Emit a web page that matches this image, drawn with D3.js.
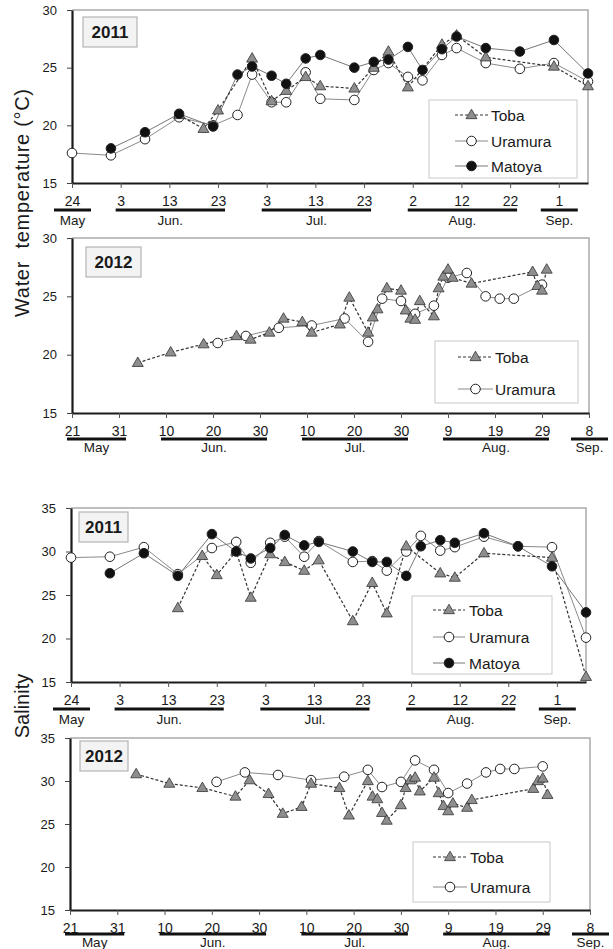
<!DOCTYPE html>
<html><head><meta charset="utf-8">
<script src="https://cdn.jsdelivr.net/npm/d3@7"></script>
<style>
body{margin:0;background:#fff}
svg{display:block}
text{font-family:"Liberation Sans",Arial,sans-serif;fill:#1a1a1a}
</style>
</head><body>
<svg id="c" width="613" height="949"></svg>
<script>
// ---------- tick labels ----------
const ticks2011 = ["05-24","06-03","06-13","06-23","07-03","07-13","07-23","08-02","08-12","08-22","09-01"];
const tickLabels2011 = ["24","3","13","23","3","13","23","2","12","22","1"];
const ticks2012 = ["05-21","05-31","06-10","06-20","06-30","07-10","07-20","07-30","08-09","08-19","08-29","09-08"];
const tickLabels2012 = ["21","31","10","20","30","10","20","30","9","19","29","8"];
const monthNames = ["May","Jun.","Jul.","Aug.","Sep."];
const tempTicks = [15,20,25,30];
const salTicks = [15,20,25,30,35];
const seriesNames3 = ["Toba","Uramura","Matoya"];
const seriesNames2 = ["Toba","Uramura"];

// ---------- 2011 water temperature ----------
const t11TobaDates = ["06-15","06-20","06-23","06-30","07-04","07-07","07-11","07-14","07-21","07-25","07-28","08-01","08-08","08-11","08-17","08-31","09-07"];
const t11Toba = [20.9,19.7,21.3,25.8,22.1,23.0,24.2,23.4,23.2,25.0,26.4,23.3,27.0,27.8,25.9,25.1,23.4];
const t11UraDates = ["05-24","06-01","06-08","06-15","06-22","06-27","06-30","07-04","07-07","07-11","07-14","07-21","07-25","07-28","08-01","08-04","08-08","08-11","08-17","08-24","08-31","09-07"];
const t11Ura = [17.6,17.4,18.8,20.7,20.0,20.9,24.4,22.0,22.0,24.6,22.3,22.2,24.8,25.4,24.2,23.9,26.1,26.7,25.4,24.9,25.4,23.8];
const t11MatDates = ["06-01","06-08","06-15","06-22","06-27","06-30","07-04","07-07","07-11","07-14","07-21","07-25","07-28","08-01","08-04","08-08","08-11","08-17","08-24","08-31","09-07"];
const t11Mat = [18.0,19.4,21.0,19.9,24.4,25.1,24.3,23.6,25.8,26.1,25.0,25.5,25.7,26.8,24.8,26.6,27.7,26.7,26.4,27.4,24.5];

// ---------- 2012 water temperature ----------
const t12TobaDates = ["06-04","06-11","06-18","06-25","06-28","07-02","07-05","07-09","07-11","07-17","07-19","07-23","07-24","07-25","07-27","07-30","07-31","08-01","08-02","08-03","08-06","08-07","08-08","08-09","08-10","08-14","08-27","08-28","08-29","08-30"];
const t12Toba = [19.3,20.2,20.9,21.6,21.3,21.9,23.1,22.8,21.9,22.6,24.9,21.9,23.2,23.9,25.7,25.5,23.8,23.1,23.0,24.6,23.3,25.7,26.7,27.3,26.6,26.1,27.1,25.9,25.5,27.3];
const t12UraDates = ["06-21","06-27","07-04","07-11","07-18","07-23","07-26","07-30","08-02","08-06","08-09","08-13","08-17","08-20","08-23","08-29"];
const t12Ura = [21.0,21.6,22.3,22.5,23.1,21.1,24.8,24.6,23.5,24.2,26.6,27.0,25.0,24.8,24.8,26.0];

// ---------- 2011 salinity ----------
const s11TobaDates = ["06-15","06-20","06-23","06-27","06-30","07-04","07-07","07-11","07-14","07-21","07-25","07-28","08-01","08-08","08-11","08-17","08-31","09-07"];
const s11Toba = [23.5,29.5,27.3,30.0,24.7,29.7,28.8,27.8,29.0,22.0,26.4,22.9,30.6,27.5,27.0,29.8,29.3,15.6];
const s11UraDates = ["05-24","06-01","06-08","06-15","06-22","06-27","06-30","07-04","07-07","07-11","07-14","07-21","07-25","07-28","08-01","08-04","08-08","08-11","08-17","08-24","08-31","09-07"];
const s11Ura = [29.3,29.4,30.5,27.4,30.4,31.1,28.7,31.0,31.7,29.4,31.2,28.8,28.9,27.8,30.0,31.8,30.1,30.5,31.7,30.6,30.5,20.1];
const s11MatDates = ["06-01","06-08","06-15","06-22","06-27","06-30","07-04","07-07","07-11","07-14","07-21","07-25","07-28","08-01","08-04","08-08","08-11","08-17","08-24","08-31","09-07"];
const s11Mat = [27.5,29.8,27.2,32.0,30.0,29.2,30.4,31.9,30.7,31.1,30.0,28.8,28.8,27.2,30.6,31.3,31.0,32.1,30.6,28.3,23.0];

// ---------- 2012 salinity ----------
const s12TobaDates = ["06-04","06-11","06-18","06-25","06-28","07-02","07-05","07-09","07-11","07-17","07-19","07-23","07-24","07-25","07-26","07-27","07-30","07-31","08-01","08-02","08-03","08-06","08-07","08-08","08-09","08-10","08-13","08-14","08-27","08-28","08-29","08-30"];
const s12Toba = [30.8,29.7,29.2,28.2,30.1,28.5,26.2,27.0,29.7,29.2,26.0,30.0,28.2,27.9,26.3,25.4,27.2,29.2,30.1,30.4,28.8,30.4,28.6,27.1,26.5,27.4,26.9,27.8,29.1,30.0,30.3,28.4];
const s12UraDates = ["06-21","06-27","07-04","07-11","07-18","07-23","07-26","07-30","08-02","08-06","08-09","08-13","08-17","08-20","08-23","08-29"];
const s12Ura = [29.9,31.0,30.7,30.1,30.5,31.3,29.3,29.9,32.4,31.3,28.6,29.7,31.0,31.4,31.4,31.7];

// ---------- rendering ----------
const parse = d3.timeParse("%Y-%m-%d");
const toDate = (yr, s) => parse(yr + "-" + s);
const svg = d3.select("#c");

const styles = {
  Toba:    {line:"#333", dash:"3,2", width:1.2, shape:"tri", fill:"#8e8e8e"},
  Uramura: {line:"#8a8a8a", dash:null, width:1, shape:"circ", fill:"#fff"},
  Matoya:  {line:"#777", dash:null, width:1, shape:"circ", fill:"#111"}
};

function marker(sel, name, cx, cy) {
  const st = styles[name];
  if (st.shape === "tri") {
    sel.append("path")
      .attr("d", d3.symbol(d3.symbolTriangle, 52)())
      .attr("transform", `translate(${cx},${cy + 0.5})`)
      .attr("fill", st.fill).attr("stroke", "#333").attr("stroke-width", 0.8);
  } else {
    sel.append("circle").attr("cx", cx).attr("cy", cy).attr("r", 4.8)
      .attr("fill", st.fill).attr("stroke", "#222").attr("stroke-width", 1);
  }
}

const panels = [
  {year:2011, box:{l:72,r:588,t:10,b:183}, xDom:["05-24","09-07"], yDom:[15,30], yTicks:tempTicks,
   ticks:ticks2011, labels:tickLabels2011, barY:210, monthY:225,
   series:[["Toba",t11TobaDates,t11Toba],["Uramura",t11UraDates,t11Ura],["Matoya",t11MatDates,t11Mat]],
   legend:{x0:429,x1:577,y0:100,y1:178,rows:[115,141,166],l0:455,l1:488,tx:491,names:seriesNames3},
   yb:{x0:83,x1:137,y0:17,y1:47}},
  {year:2012, box:{l:72,r:589,t:238,b:413}, xDom:["05-21","09-08"], yDom:[15,30], yTicks:tempTicks,
   ticks:ticks2012, labels:tickLabels2012, barY:439, monthY:452,
   series:[["Toba",t12TobaDates,t12Toba],["Uramura",t12UraDates,t12Ura]],
   legend:{x0:435,x1:578,y0:341,y1:403,rows:[357,389],l0:458,l1:493,tx:495,names:seriesNames2},
   yb:{x0:86,x1:141,y0:247,y1:277}},
  {year:2011, box:{l:71,r:586,t:508,b:682}, xDom:["05-24","09-07"], yDom:[15,35], yTicks:salTicks,
   ticks:ticks2011, labels:tickLabels2011, barY:709, monthY:724,
   series:[["Toba",s11TobaDates,s11Toba],["Uramura",s11UraDates,s11Ura],["Matoya",s11MatDates,s11Mat]],
   legend:{x0:412,x1:552,y0:596,y1:674,rows:[610,637,663],l0:433,l1:465,tx:469,names:seriesNames3},
   yb:{x0:79,x1:128,y0:512,y1:542}},
  {year:2012, box:{l:70,r:590,t:738,b:910}, xDom:["05-21","09-08"], yDom:[15,35], yTicks:salTicks,
   ticks:ticks2012, labels:tickLabels2012, barY:934, monthY:947,
   series:[["Toba",s12TobaDates,s12Toba],["Uramura",s12UraDates,s12Ura]],
   legend:{x0:413,x1:550,y0:842,y1:902,rows:[857,887],l0:433,l1:467,tx:470,names:seriesNames2},
   yb:{x0:80,x1:128,y0:741,y1:771}}
];

panels.forEach(p => {
  const {l, r, t, b} = p.box;
  const x = d3.scaleTime().domain(p.xDom.map(s => toDate(p.year, s))).range([l, r]);
  const y = d3.scaleLinear().domain(p.yDom).range([b, t]);
  const g = svg.append("g");

  // top/right frame
  g.append("path").attr("d", `M${l},${t}H${r}V${b}`)
    .attr("fill", "none").attr("stroke", "#aaa").attr("stroke-width", 1.5);

  // y axis
  const ya = g.append("g").attr("transform", `translate(${l},0)`)
    .call(d3.axisLeft(y).tickValues(p.yTicks).tickSize(5).tickSizeOuter(0).tickPadding(10));
  ya.select(".domain").attr("stroke", "#1a1a1a").attr("stroke-width", 2.2);
  ya.selectAll(".tick line").attr("stroke", "#444");
  ya.selectAll(".tick text").attr("font-size", 13).attr("fill", "#1a1a1a")
    .attr("font-family", "Liberation Sans, Arial, sans-serif");

  // x axis
  const tickDates = p.ticks.map(s => toDate(p.year, s));
  const xa = g.append("g").attr("transform", `translate(0,${b})`)
    .call(d3.axisBottom(x).tickValues(tickDates).tickSize(5).tickSizeOuter(0).tickPadding(8)
      .tickFormat((d, i) => p.labels[i]));
  xa.select(".domain").attr("stroke", "#1a1a1a").attr("stroke-width", 2.2);
  xa.selectAll(".tick line").attr("stroke", "#555");
  xa.selectAll(".tick text").attr("font-size", 14).attr("fill", "#1a1a1a")
    .attr("font-family", "Liberation Sans, Arial, sans-serif");

  // month bars & labels
  const groups = d3.groups(tickDates, d => d.getMonth());
  groups.forEach(([m, ds]) => {
    const x0 = x(ds[0]), x1 = x(ds[ds.length - 1]);
    let a, c;
    if (ds.length === 1) { a = x0 - 18; c = x0 + 19; }
    else { a = x0 - 5; c = x1 + 7; }
    g.append("rect").attr("x", a).attr("y", p.barY - 1.5).attr("width", c - a).attr("height", 3).attr("fill", "#111");
    g.append("text").attr("x", (a + c) / 2).attr("y", p.monthY).attr("text-anchor", "middle")
      .attr("font-size", 13.5).text(monthNames[m - 4]);
  });

  // series lines
  const plot = g.append("g");
  const prepared = p.series.map(([name, ds, vs]) => ({name, pts: ds.map((d, i) => [x(toDate(p.year, d)), y(vs[i])])}));
  ["Uramura", "Matoya", "Toba"].forEach(n => {
    const s = prepared.find(q => q.name === n); if (!s) return;
    const st = styles[n];
    plot.append("path").attr("d", d3.line()(s.pts)).attr("fill", "none")
      .attr("stroke", st.line).attr("stroke-width", st.width)
      .attr("stroke-dasharray", st.dash);
  });
  ["Uramura", "Toba", "Matoya"].forEach(n => {
    const s = prepared.find(q => q.name === n); if (!s) return;
    s.pts.forEach(([cx, cy]) => marker(plot, n, cx, cy));
  });

  // year box
  const yb = p.yb;
  g.append("rect").attr("x", yb.x0).attr("y", yb.y0).attr("width", yb.x1 - yb.x0).attr("height", yb.y1 - yb.y0)
    .attr("fill", "#f3f3f3").attr("stroke", "#b5b5b5").attr("stroke-width", 1.2);
  g.append("text").attr("x", (yb.x0 + yb.x1) / 2).attr("y", (yb.y0 + yb.y1) / 2 + 6)
    .attr("text-anchor", "middle").attr("font-weight", "bold").attr("font-size", 17).text(p.year);

  // legend
  const L = p.legend;
  g.append("rect").attr("x", L.x0).attr("y", L.y0).attr("width", L.x1 - L.x0).attr("height", L.y1 - L.y0)
    .attr("fill", "#fff").attr("stroke", "#c8c8c8").attr("stroke-width", 1);
  L.names.forEach((n, i) => {
    const yy = L.rows[i], st = styles[n];
    g.append("line").attr("x1", L.l0).attr("x2", L.l1).attr("y1", yy).attr("y2", yy)
      .attr("stroke", st.line).attr("stroke-width", st.width).attr("stroke-dasharray", st.dash);
    marker(g, n, (L.l0 + L.l1) / 2, yy);
    g.append("text").attr("x", L.tx).attr("y", yy + 5.5).attr("font-size", 15.5).text(n);
  });
});

// axis titles
svg.append("text").attr("transform", "translate(29,203) rotate(-90)")
  .attr("text-anchor", "middle").attr("font-size", 20).attr("xml:space", "preserve")
  .style("white-space", "pre").attr("textLength", 228).attr("lengthAdjust", "spacing")
  .text("Water  temperature (°C)");
svg.append("text").attr("transform", "translate(29,706) rotate(-90)")
  .attr("text-anchor", "middle").attr("font-size", 20).text("Salinity");
</script>
</body></html>
